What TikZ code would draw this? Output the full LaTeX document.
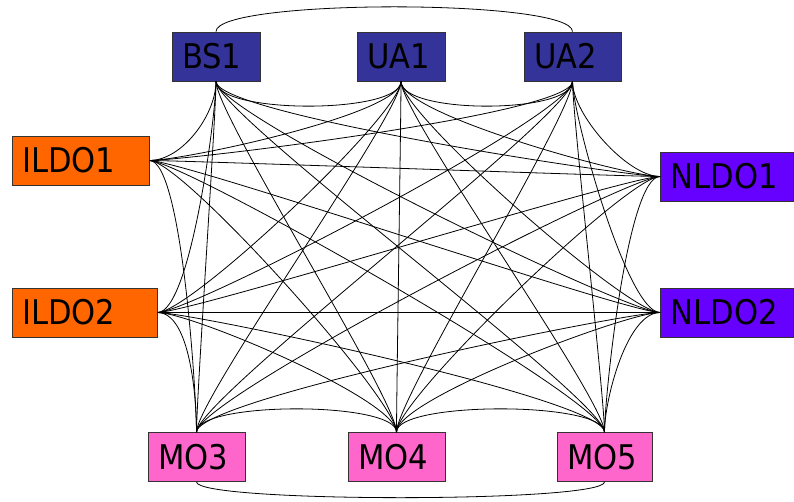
\documentclass[tikz,border=0pt]{standalone}
\usepackage{fontspec}
\setmainfont{DejaVu Sans}[FakeStretch=0.9]
\definecolor{topblue}{HTML}{333399}
\definecolor{ldo}{HTML}{FF6600}
\definecolor{nldo}{HTML}{6600FF}
\definecolor{mo}{HTML}{FF66CC}
\begin{document}
\begin{tikzpicture}[x=1pt,y=1pt,
  box/.style={draw=black!80, line width=0.8pt, rectangle, minimum height=49pt,
    inner xsep=10pt, inner ysep=0pt, text width=#1, align=left,
    font=\fontsize{34}{40}\selectfont},
  link/.style={line width=0.8pt, black}]
\useasboundingbox (0,0) rectangle (794,501);
% nodes
\node[box=68pt, fill=topblue] (BS1) at (216,444.5) {BS1};
\node[box=68pt, fill=topblue] (UA1) at (401,444.5) {UA1};
\node[box=77pt, fill=topblue] (UA2) at (572.5,444.5) {UA2};
\node[box=117pt, fill=ldo] (ILDO1) at (80.5,340.5) {ILDO1};
\node[box=125pt, fill=ldo] (ILDO2) at (84.5,188.5) {ILDO2};
\node[box=113pt, fill=nldo] (NLDO1) at (727,324.5) {NLDO1};
\node[box=113pt, fill=nldo] (NLDO2) at (727,188.5) {NLDO2};
\node[box=77pt, fill=mo] (MO3) at (196.5,44) {MO3};
\node[box=77pt, fill=mo] (MO4) at (396.5,44) {MO4};
\node[box=75pt, fill=mo] (MO5) at (604.5,44) {MO5};
% arcs within rows
\draw[link] (BS1.south) .. controls +(0,-33) and +(0,-33) .. (UA1.south);
\draw[link] (UA1.south) .. controls +(0,-33) and +(0,-33) .. (UA2.south);
\draw[link] (BS1.north) .. controls +(0,33) and +(0,33) .. (UA2.north);
\draw[link] (MO3.north) .. controls +(0,31) and +(0,31) .. (MO4.north);
\draw[link] (MO4.north) .. controls +(0,31) and +(0,31) .. (MO5.north);
\draw[link] (MO3.south) .. controls +(0,-21) and +(0,-21) .. (MO5.south);
% cross connections
\foreach \a in {BS1,UA1,UA2}{
  \foreach \b in {ILDO1,ILDO2} \draw[link] (\a.south) .. controls +(0,-33) and +(33,0) .. (\b.east);
  \foreach \b in {NLDO1,NLDO2} \draw[link] (\a.south) .. controls +(0,-33) and +(-33,0) .. (\b.west);
  \foreach \b in {MO3,MO4,MO5} \draw[link] (\a.south) .. controls +(0,-33) and +(0,33) .. (\b.north);
}
\foreach \a in {ILDO1,ILDO2}{
  \foreach \b in {NLDO1,NLDO2} \draw[link] (\a.east) .. controls +(33,0) and +(-33,0) .. (\b.west);
  \foreach \b in {MO3,MO4,MO5} \draw[link] (\a.east) .. controls +(33,0) and +(0,33) .. (\b.north);
}
\foreach \a in {NLDO1,NLDO2}{
  \foreach \b in {MO3,MO4,MO5} \draw[link] (\a.west) .. controls +(-33,0) and +(0,33) .. (\b.north);
}
\end{tikzpicture}
\end{document}
